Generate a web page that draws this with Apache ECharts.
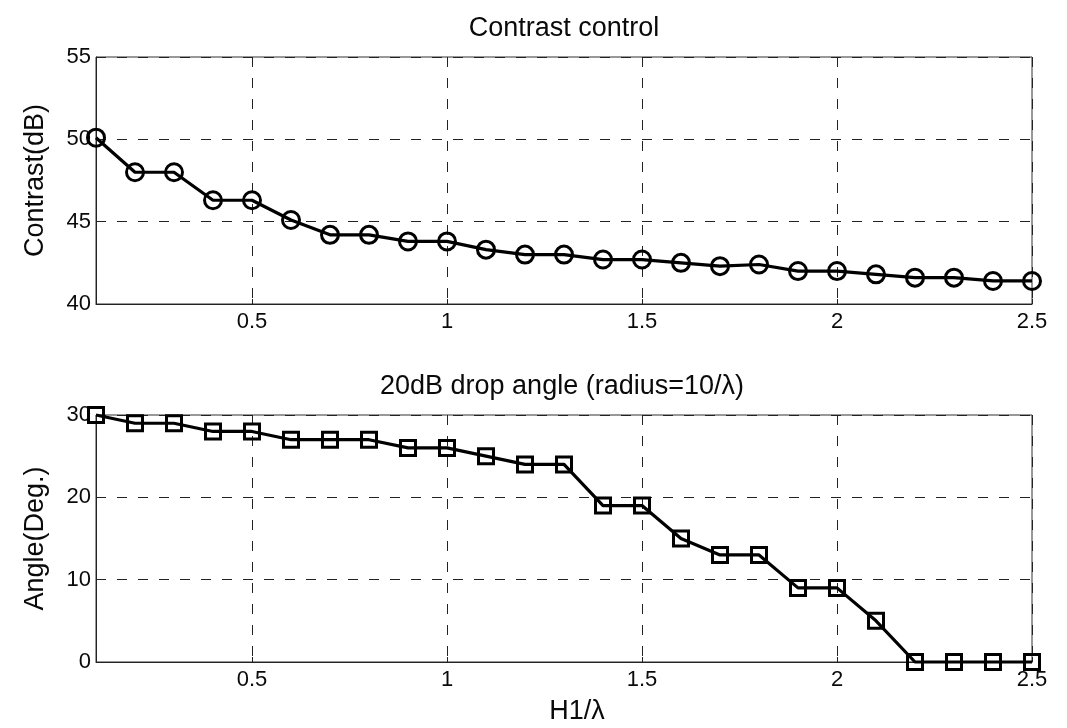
<!DOCTYPE html>
<html>
<head>
<meta charset="utf-8">
<title>Contrast control / 20dB drop angle</title>
<script src="https://cdn.jsdelivr.net/npm/echarts@6/dist/echarts.min.js"></script>
<style>
  html, body { margin: 0; padding: 0; background: #fff; }
  #chart { width: 1067px; height: 728px; }
</style>
</head>
<body>
<div id="chart"></div>
<script>
// Normalised spacing H1/λ, shared by both panels
const h1Lambda = [0.1, 0.2, 0.3, 0.4, 0.5, 0.6, 0.7, 0.8, 0.9, 1.0, 1.1, 1.2, 1.3,
                  1.4, 1.5, 1.6, 1.7, 1.8, 1.9, 2.0, 2.1, 2.2, 2.3, 2.4, 2.5];

// Upper panel: contrast in dB
const contrastDb = [50.1, 48.0, 48.0, 46.3, 46.3, 45.1, 44.2, 44.2, 43.8, 43.8, 43.3, 43.0, 43.0,
                    42.7, 42.7, 42.5, 42.3, 42.4, 42.0, 42.0, 41.8, 41.6, 41.6, 41.4, 41.4];

// Lower panel: 20 dB drop angle in degrees (radius = 10/λ)
const dropAngleDeg = [30, 29, 29, 28, 28, 27, 27, 27, 26, 26, 25, 24, 24,
                      19, 19, 15, 13, 13, 9, 9, 5, 0, 0, 0, 0];

// Axis ranges and tick steps
const xRange = [0.1, 2.5];
const contrastTicks = { min: 40, max: 55, step: 5 };
const angleTicks = { min: 0, max: 30, step: 10 };

const titles = ['Contrast control', '20dB drop angle (radius=10/\u03bb)'];
const yNames = ['Contrast(dB)', 'Angle(Deg.)'];
const xName = 'H1/\u03bb';

const FONT = '"Liberation Sans", Arial, Helvetica, sans-serif';
const INK = '#000';
const TEXT = '#0a0a0a';

const gridTop = [57, 415];
const gridHeight = 247;
const gridLeft = 96;
const gridRight = 35;
const plotCenterX = gridLeft + (1067 - gridLeft - gridRight) / 2;

function makeX(gridIndex, withName) {
  return {
    type: 'value',
    gridIndex: gridIndex,
    min: xRange[0],
    max: xRange[1],
    splitNumber: 5,
    name: withName ? xName : '',
    nameLocation: 'middle',
    nameGap: 36,
    nameTextStyle: { fontFamily: FONT, fontSize: 27, color: TEXT, padding: [0, 0, 0, 26] },
    axisLine: { show: true, onZero: false, lineStyle: { color: '#222', width: 1 } },
    axisTick: { show: true, inside: true, length: 5, lineStyle: { color: '#222' } },
    axisLabel: {
      showMinLabel: false,
      margin: 7,
      fontFamily: FONT, fontSize: 22, color: TEXT,
      formatter: v => String(+v.toFixed(1))
    },
    splitLine: { show: true, lineStyle: { color: '#222', type: [10, 11], width: 1 } }
  };
}

function makeY(gridIndex, ticks, name) {
  return {
    type: 'value',
    gridIndex: gridIndex,
    min: ticks.min,
    max: ticks.max,
    interval: ticks.step,
    name: name,
    nameLocation: 'middle',
    nameRotate: 90,
    nameGap: 47,
    nameTextStyle: { fontFamily: FONT, fontSize: 27, color: TEXT },
    axisLine: { show: true, onZero: false, lineStyle: { color: '#222', width: 1 } },
    axisTick: { show: true, inside: true, length: 5, lineStyle: { color: '#222' } },
    axisLabel: { margin: 5, fontFamily: FONT, fontSize: 22, color: TEXT },
    splitLine: { show: true, lineStyle: { color: '#222', type: [10, 11], width: 1 } }
  };
}

function makeSeries(gridIndex, values, symbol, size) {
  return {
    type: 'line',
    xAxisIndex: gridIndex,
    yAxisIndex: gridIndex,
    data: h1Lambda.map((x, i) => [x, values[i]]),
    symbol: symbol,
    symbolSize: size,
    showAllSymbol: true,
    lineStyle: { color: INK, width: 3.2 },
    itemStyle: { color: 'rgba(255,255,255,0)', borderColor: INK, borderWidth: 3 },
    emphasis: { disabled: true },
    animation: false,
    clip: false
  };
}

const chart = echarts.init(document.getElementById('chart'), null, { renderer: 'canvas' });

chart.setOption({
  backgroundColor: '#fff',
  animation: false,
  grid: gridTop.map(t => ({
    left: gridLeft, right: gridRight, top: t, height: gridHeight,
    show: true, borderColor: '#333', borderWidth: 1, backgroundColor: 'transparent'
  })),
  xAxis: [makeX(0, false), makeX(1, true)],
  yAxis: [makeY(0, contrastTicks, yNames[0]), makeY(1, angleTicks, yNames[1])],
  series: [
    makeSeries(0, contrastDb, 'circle', 17),
    makeSeries(1, dropAngleDeg, 'rect', 15)
  ],
  graphic: [
    {
      type: 'text', x: plotCenterX, y: 29,
      style: { text: titles[0], font: '27px ' + FONT, fill: TEXT, align: 'center', verticalAlign: 'middle' }
    },
    {
      type: 'text', x: plotCenterX - 2, y: 387,
      style: { text: titles[1], font: '27px ' + FONT, fill: TEXT, align: 'center', verticalAlign: 'middle' }
    }
  ]
});
</script>
</body>
</html>
